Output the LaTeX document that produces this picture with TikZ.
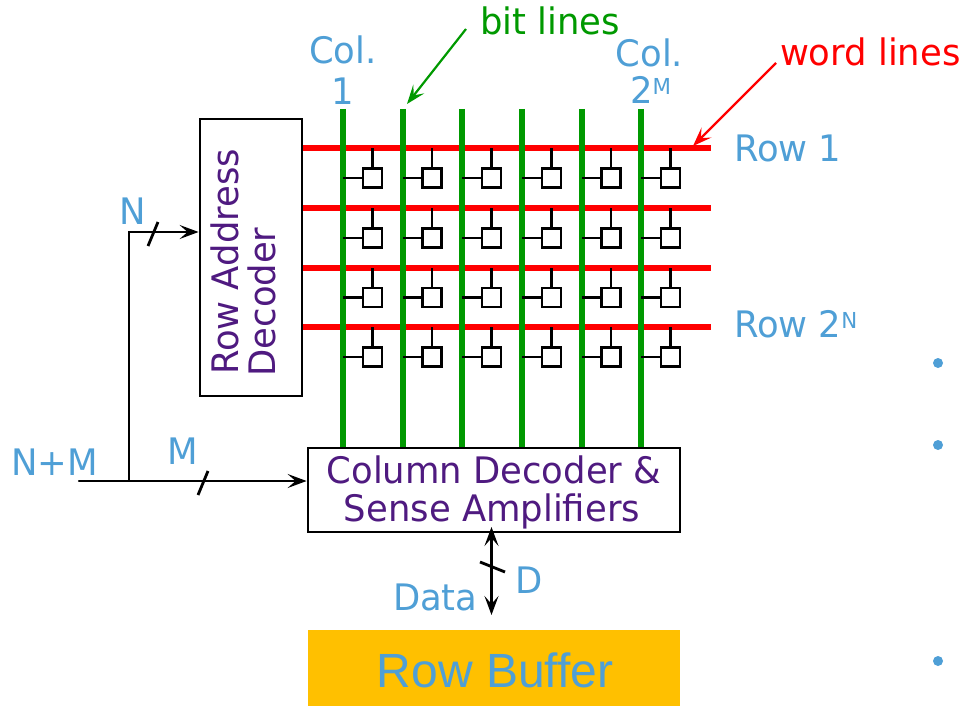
\documentclass[tikz,border=0pt]{standalone}
\usepackage{fontspec}
\setmainfont{DejaVu Sans}[FakeStretch=0.97]
\newfontfamily\arialfont{Liberation Sans}
\usetikzlibrary{arrows.meta}
\definecolor{txtblue}{HTML}{4F9FD6}
\definecolor{txtpurple}{HTML}{4F1A80}
\definecolor{bitgreen}{HTML}{009900}
\definecolor{bufgold}{HTML}{FFC000}
\tikzset{
  lbl/.style={anchor=base west,inner sep=0pt,outer sep=0pt,font=\fontsize{36.5}{36.5}\selectfont,text=txtblue},
  lblc/.style={lbl,anchor=base},
  purp/.style={anchor=base,inner sep=0pt,font=\fontsize{36.5}{38}\selectfont,text=txtpurple},
  blockbox/.style={draw=black,line width=2.8pt,fill=white,inner sep=0pt},
  wordline/.style={draw=red,line width=6pt},
  bitline/.style={draw=bitgreen,line width=6pt},
  wire/.style={draw=black,line width=2.4pt},
  cell/.style={draw=black,line width=2.6pt,fill=white,minimum size=19pt,inner sep=0pt},
  arr/.style={wire,-{Stealth[length=19pt,width=14pt,inset=8pt]}},
  barr/.style={wire,{Stealth[length=19pt,width=14pt,inset=8pt]}-{Stealth[length=19pt,width=14pt,inset=8pt]}},
  slashmark/.style={draw=black,line width=2.8pt},
  dotb/.style={circle,fill=txtblue,minimum size=10pt,inner sep=0pt},
}
\begin{document}
\begin{tikzpicture}[x=1pt,y=-1pt]
\useasboundingbox (0,0) rectangle (965,706);
% blocks
\node[blockbox,minimum width=102pt,minimum height=277pt] (rowdec) at (251,257.5) {};
\node[blockbox,minimum width=372pt,minimum height=84pt] (coldec) at (494,490) {};
\node[fill=bufgold,minimum width=372pt,minimum height=76pt,inner sep=0pt] (rowbuf) at (494,668) {};
% word lines
\foreach \i/\y in {1/148,2/208,3/268,4/327}{
  \coordinate (wl\i) at (303,\y);
  \coordinate (wr\i) at (711,\y);
  \draw[wordline] (wl\i) -- (wr\i);
}
% bit lines
\foreach \j/\x in {1/343,2/402.5,3/462,4/522,5/581.5,6/641}{
  \coordinate (bt\j) at (\x,109);
  \coordinate (bb\j) at (\x,447);
  \draw[bitline] (bt\j) -- (bb\j);
}
% cells
\foreach \i/\y in {1/178,2/238,3/297.5,4/357}{
  \foreach \j/\x in {1/372.5,2/432,3/491.5,4/551.5,5/611,6/670.5}{
    \node[cell] (c\i\j) at (\x,\y) {};
    \draw[wire] (c\i\j.north) -- (c\i\j.north |- wl\i);
    \draw[wire] (c\i\j.west) -- (c\i\j.west -| bt\j);
  }
}
% block text
\node[purp,rotate=90,anchor=base] (rowtxt1) at (238,262) {Row Address};
\node[purp,rotate=90,anchor=base] (rowtxt2) at (275,302) {Decoder};
\node[purp] (coltxt1) at (494,483) {Column Decoder \&};
\node[purp] (coltxt2) at (492,521) {Sense Amplif{}iers};
\node[anchor=center,inner sep=0pt,font=\arialfont\fontsize{48}{48}\selectfont,text=txtblue] (buftxt) at (495,670) {Row Buf{}fer};
% address wires
\coordinate (inM) at (79,481);
\coordinate (junc) at (129,481);
\coordinate (corner) at (129,232);
\draw[wire,line cap=round] (inM) -- (junc);
\draw[arr] (junc) -- (coldec.west |- junc);
\draw[arr] (junc) -- (corner) -- (rowdec.west |- corner);
\coordinate (sn1) at (148,246); \coordinate (sn2) at (158,222);
\draw[slashmark] (sn1) -- (sn2);
\coordinate (sm1) at (198,495); \coordinate (sm2) at (208,471);
\draw[slashmark] (sm1) -- (sm2);
% data
\coordinate (dA) at (491.5,527);
\coordinate (dB) at (491.5,615);
\draw[barr] (dA) -- (dB);
\coordinate (sd1) at (480,562); \coordinate (sd2) at (505,572);
\draw[slashmark] (sd1) -- (sd2);
% labels
\node[lbl] (lN) at (119,224) {N};
\node[lbl] (lNM) at (11,475) {N+M};
\node[lbl] (lM) at (167,464) {M};
\node[lbl] (lData) at (393,610) {Data};
\node[lbl] (lD) at (515,593) {D};
\node[lblc] (col1a) at (343,64) {Col.};
\node[lblc] (col1b) at (343,104) {1};
\node[lblc] (col2a) at (649.5,67) {Col.};
\node[lbl] (col2b) at (630,103) {2\raisebox{9pt}{\fontsize{22}{22}\selectfont M}};
\node[lbl] (row1) at (734,161) {Row 1};
\node[lbl] (row2) at (734,337) {Row 2\raisebox{9pt}{\fontsize{22}{22}\selectfont N}};
\node[lbl,text=bitgreen] (bitl) at (480,35) {bit lines};
\node[lbl,text=red] (wordl) at (780,66) {word lines};
% callouts
\coordinate (bs) at (466,29); \coordinate (be) at (407,104);
\draw[draw=bitgreen,line width=2.2pt,-{Stealth[length=19pt,width=14pt,inset=8pt]}] (bs) -- (be);
\coordinate (ws) at (776,63); \coordinate (we) at (693,146);
\draw[draw=red,line width=2.2pt,-{Stealth[length=19pt,width=14pt,inset=8pt]}] (ws) -- (we);
% bullets
\node[dotb] (d1) at (938,363) {};
\node[dotb] (d2) at (938,445) {};
\node[dotb] (d3) at (938,661) {};
\end{tikzpicture}
\end{document}
